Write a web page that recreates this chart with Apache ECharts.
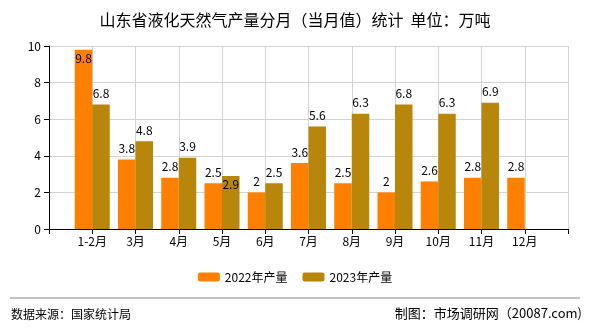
<!DOCTYPE html>
<html>
<head>
<meta charset="utf-8">
<script src="https://cdn.jsdelivr.net/npm/echarts@6/dist/echarts.min.js"></script>
<style>
html,body{margin:0;padding:0;background:#fff;}
#chart{width:590px;height:330px;}
</style>
</head>
<body>
<div id="chart"></div>
<script>
// Months (a leading blank slot keeps the first band empty)
const months = ['', '1-2月', '3月', '4月', '5月', '6月', '7月', '8月', '9月', '10月', '11月', '12月', ''];
const output2022 = [null, 9.8, 3.8, 2.8, 2.5, 2, 3.6, 2.5, 2, 2.6, 2.8, 2.8, null];
const output2023 = [null, 6.8, 4.8, 3.9, 2.9, 2.5, 5.6, 6.3, 6.8, 6.3, 6.9, null, null];
const yTicks = [0, 2, 4, 6, 8, 10];
const seriesNames = ['2022年产量', '2023年产量'];

const FONT = 'SimSun, "Noto Sans CJK SC", sans-serif';

function withLabels(values, insideIdx) {
  return values.map((v, i) => {
    if (v == null) return v;
    if (insideIdx.includes(i)) {
      return { value: v, label: { position: 'insideTop', distance: 3 } };
    }
    return v;
  });
}

const chart = echarts.init(document.getElementById('chart'));
chart.setOption({
  animation: false,
  backgroundColor: '#ffffff',
  title: {
    text: '山东省液化天然气产量分月（当月值）统计  单位：万吨',
    left: 'center',
    top: 7,
    textStyle: { fontFamily: FONT, fontSize: 16, fontWeight: 'normal', color: '#000' }
  },
  legend: {
    bottom: 42,
    left: 'center',
    itemWidth: 22,
    itemHeight: 9,
    itemGap: 15,
    textStyle: { fontFamily: FONT, fontSize: 12, color: '#000' },
    data: seriesNames
  },
  grid: { left: 49, right: 22, top: 46, bottom: 101 },
  xAxis: {
    type: 'category',
    data: months,
    boundaryGap: false,
    axisLine: { lineStyle: { color: '#000', width: 1 } },
    axisTick: { show: true, length: 5, lineStyle: { color: '#000' } },
    axisLabel: { fontFamily: FONT, fontSize: 12, color: '#000', interval: 0, margin: 6 },
    splitLine: { show: true, lineStyle: { color: '#d3d3d3' } }
  },
  yAxis: {
    type: 'value',
    min: yTicks[0],
    max: yTicks[yTicks.length - 1],
    interval: 2,
    axisLine: { show: true, lineStyle: { color: '#000', width: 1 } },
    axisTick: { show: true, length: 5, lineStyle: { color: '#000' } },
    axisLabel: { fontFamily: FONT, fontSize: 12, color: '#000', margin: 8 },
    splitLine: { show: true, lineStyle: { color: '#d3d3d3' } }
  },
  series: [
    {
      name: seriesNames[0],
      type: 'bar',
      barWidth: 17.5,
      barGap: '0%',
      itemStyle: { color: '#ff8000' },
      label: { show: true, position: 'top', distance: 5, fontFamily: FONT, fontSize: 12, color: '#000' },
      data: withLabels(output2022, [1])
    },
    {
      name: seriesNames[1],
      type: 'bar',
      barWidth: 17.5,
      barGap: '0%',
      itemStyle: { color: '#b8860b' },
      label: { show: true, position: 'top', distance: 5, fontFamily: FONT, fontSize: 12, color: '#000' },
      data: withLabels(output2023, [4])
    }
  ],
  graphic: [
    { type: 'line', shape: { x1: 10, y1: 298, x2: 580, y2: 298 }, style: { stroke: '#888', lineWidth: 1 } },
    { type: 'text', left: 11, top: 308, style: { text: '数据来源：国家统计局', font: '12px ' + FONT, fill: '#000' } },
    { type: 'text', right: 8, top: 307, style: { text: '制图：市场调研网（20087.com)', font: '13px ' + FONT, fill: '#000' } }
  ]
});
</script>
</body>
</html>
